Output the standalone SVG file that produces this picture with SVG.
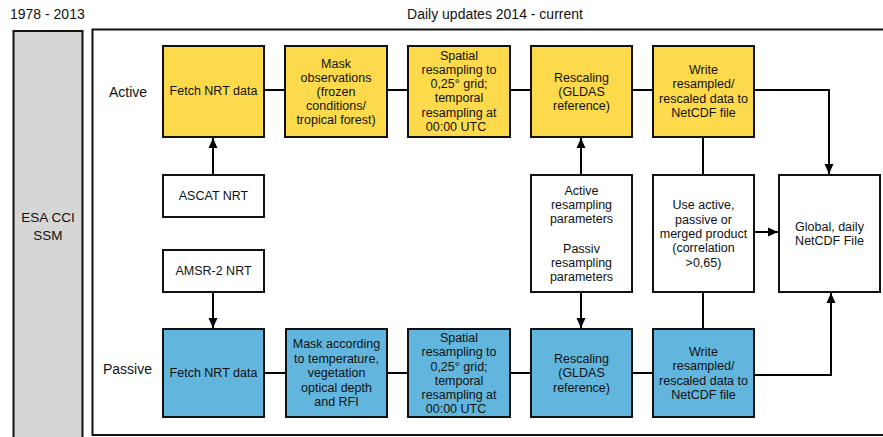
<svg xmlns="http://www.w3.org/2000/svg" width="883" height="437" viewBox="0 0 883 437">
<defs>
<marker id="ah" viewBox="0 0 10 10" refX="10" refY="5" markerWidth="10" markerHeight="10" markerUnits="userSpaceOnUse" orient="auto">
<path d="M0,0.5 L10,5 L0,9.5 Z" fill="#000"/>
</marker>
<style>
text{font-family:"Liberation Sans",Arial,sans-serif;fill:#111;}
.hdr{font-size:14px;}
.lbl{font-size:14px;}
.t{font-size:12.5px;text-anchor:middle;}
.box{stroke:#111;stroke-width:2;}
.y{fill:#FDDA4C;}
.b{fill:#62B6DD;}
.w{fill:#fff;}
.c{fill:none;stroke:#000;stroke-width:2;}
.ca{fill:none;stroke:#000;stroke-width:2;marker-end:url(#ah);}
</style>
</defs>
<rect width="883" height="437" fill="#fff"/>
<text class="hdr" x="10" y="19">1978 - 2013</text>
<text class="hdr" x="495" y="19" text-anchor="middle">Daily updates 2014 - current</text>
<g id="esa">
<rect x="13.5" y="31" width="69" height="410" fill="#D6D6D6" stroke="#111" stroke-width="2"/>
<text class="t" x="48" y="222" style="font-size:13.5px">ESA CCI</text>
<text class="t" x="48" y="240" style="font-size:13.5px">SSM</text>
</g>
<g id="daily">
<rect x="92.5" y="29.5" width="800" height="405.5" fill="#fff" stroke="#111" stroke-width="2"/>
</g>
<text class="lbl" x="109" y="97">Active</text>
<text class="lbl" x="103" y="374">Passive</text>
<g id="connectors">
<path class="c" d="M264,90 H285 M387,90 H408 M510,90 H531 M632,90 H653"/>
<path class="c" d="M264,373 H286 M387,373 H408 M510,373 H531 M632,373 H653"/>
<path class="ca" d="M213,175 V138"/>
<path class="ca" d="M213,292 V328"/>
<path class="ca" d="M581,175 V138"/>
<path class="ca" d="M581,292 V328"/>
<path class="c" d="M703,137 V175"/>
<path class="c" d="M703,292 V329"/>
<path class="ca" d="M754,90 H829 V174"/>
<path class="ca" d="M754,375 H831 V293"/>
<path class="ca" d="M754,232 H778"/>
</g>
<g id="a_fetch"><rect class="box y" x="163" y="46" width="101" height="91"/>
<text class="t" x="213.5" y="95">Fetch NRT data</text></g>
<g id="a_mask"><rect class="box y" x="285" y="46" width="102" height="91"/>
<text class="t" x="336" y="68">Mask</text><text class="t" x="336" y="82">observations</text><text class="t" x="336" y="96">(frozen</text><text class="t" x="336" y="110">conditions/</text><text class="t" x="336" y="124">tropical forest)</text></g>
<g id="a_spatial"><rect class="box y" x="408" y="46" width="102" height="91"/>
<text class="t" x="459" y="60">Spatial</text><text class="t" x="459" y="74">resampling to</text><text class="t" x="459" y="88">0,25° grid;</text><text class="t" x="459" y="102">temporal</text><text class="t" x="459" y="117">resampling at</text><text class="t" x="456" y="131">00:00 UTC</text></g>
<g id="a_rescale"><rect class="box y" x="531" y="46" width="101" height="91"/>
<text class="t" x="581.5" y="82">Rescaling</text><text class="t" x="581.5" y="96">(GLDAS</text><text class="t" x="581.5" y="110">reference)</text></g>
<g id="a_write"><rect class="box y" x="653" y="46" width="101" height="91"/>
<text class="t" x="703.5" y="74">Write</text><text class="t" x="703.5" y="88">resampled/</text><text class="t" x="703.5" y="103">rescaled data to</text><text class="t" x="703.5" y="117">NetCDF file</text></g>
<g id="ascat"><rect class="box w" x="163" y="175" width="101" height="42"/>
<text class="t" x="213.5" y="200">ASCAT NRT</text></g>
<g id="amsr"><rect class="box w" x="163" y="250" width="101" height="42"/>
<text class="t" x="213.5" y="275">AMSR-2 NRT</text></g>
<g id="params"><rect class="box w" x="531" y="175" width="101" height="117"/>
<text class="t" x="581.5" y="195">Active</text><text class="t" x="581.5" y="209">resampling</text><text class="t" x="581.5" y="223">parameters</text>
<text class="t" x="581.5" y="253">Passiv</text><text class="t" x="581.5" y="267">resampling</text><text class="t" x="581.5" y="281">parameters</text></g>
<g id="use"><rect class="box w" x="653" y="175" width="101" height="117"/>
<text class="t" x="703.5" y="209">Use active,</text><text class="t" x="703.5" y="224">passive or</text><text class="t" x="703.5" y="238">merged product</text><text class="t" x="703.5" y="252">(correlation</text><text class="t" x="703.5" y="267">&gt;0,65)</text></g>
<g id="global"><rect class="box w" x="779" y="175" width="101" height="117"/>
<text class="t" x="829.5" y="231">Global, daily</text><text class="t" x="829.5" y="245">NetCDF File</text></g>
<g id="p_fetch"><rect class="box b" x="163" y="329" width="101" height="88"/>
<text class="t" x="213.5" y="377">Fetch NRT data</text></g>
<g id="p_mask"><rect class="box b" x="286" y="329" width="101" height="88"/>
<text class="t" x="336.5" y="348">Mask according</text><text class="t" x="336.5" y="363">to temperature,</text><text class="t" x="336.5" y="377">vegetation</text><text class="t" x="336.5" y="392">optical depth</text><text class="t" x="336.5" y="406">and RFI</text></g>
<g id="p_spatial"><rect class="box b" x="408" y="329" width="102" height="88"/>
<text class="t" x="459" y="342">Spatial</text><text class="t" x="459" y="356">resampling to</text><text class="t" x="459" y="371">0,25° grid;</text><text class="t" x="459" y="385">temporal</text><text class="t" x="459" y="399">resampling at</text><text class="t" x="456" y="413">00:00 UTC</text></g>
<g id="p_rescale"><rect class="box b" x="531" y="329" width="101" height="88"/>
<text class="t" x="581.5" y="363">Rescaling</text><text class="t" x="581.5" y="377">(GLDAS</text><text class="t" x="581.5" y="392">reference)</text></g>
<g id="p_write"><rect class="box b" x="653" y="329" width="101" height="88"/>
<text class="t" x="703.5" y="356">Write</text><text class="t" x="703.5" y="370">resampled/</text><text class="t" x="703.5" y="385">rescaled data to</text><text class="t" x="703.5" y="399">NetCDF file</text></g>
</svg>
